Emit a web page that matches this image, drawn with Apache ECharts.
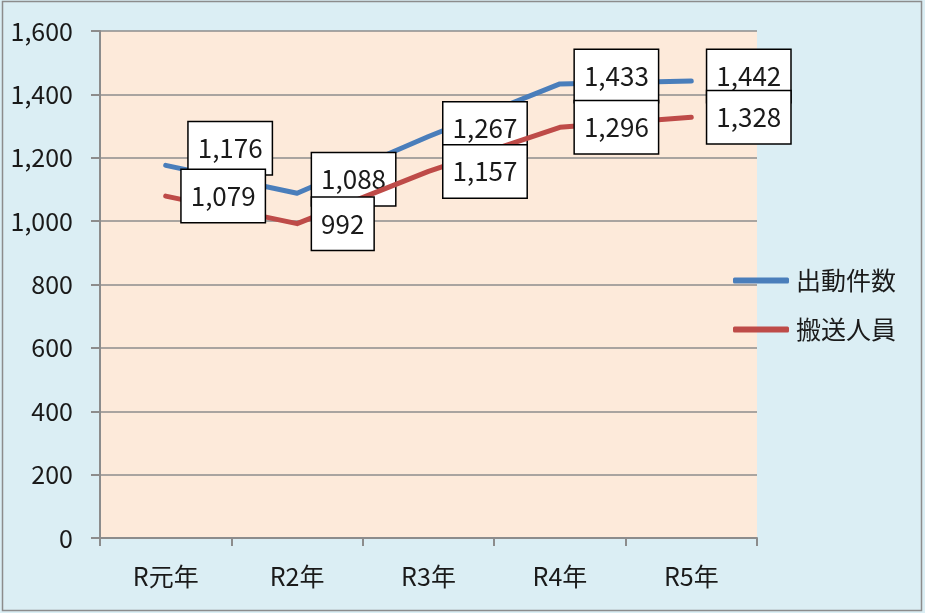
<!DOCTYPE html>
<html>
<head>
<meta charset="utf-8">
<script src="https://cdn.jsdelivr.net/npm/echarts@6/dist/echarts.min.js"></script>
<style>
html,body{margin:0;padding:0;background:#DBEEF4;}
#c{width:925px;height:613px;}
</style>
</head>
<body>
<div id="c"></div>
<script>
var categories = ['R元年', 'R2年', 'R3年', 'R4年', 'R5年'];
var seriesNames = ['出動件数', '搬送人員'];
var dispatches = [1176, 1088, 1267, 1433, 1442];
var transported = [1079, 992, 1157, 1296, 1328];
var yTicks = {min: 0, max: 1600, interval: 200};

// label nudges (style only)
var blueLabelOffsets = [[8, -17], [0, -14], [0, -8], [0, -8], [1, -5]];
var redLabelOffsets = [[1, 0], [0, 0], [0, 0], [0, 0], [1, 0]];

var FONT = '"Noto Sans CJK JP", "Noto Sans", sans-serif';
function fmt(v) { return String(v).replace(/\B(?=(\d{3})+(?!\d))/g, ','); }

function labelBase() {
  return {
    show: true,
    position: 'right',
    distance: 14,
    formatter: function (p) { return fmt(p.value); },
    fontFamily: FONT,
    fontSize: 26,
    color: '#1a1a1a',
    backgroundColor: '#ffffff',
    borderColor: '#000000',
    borderWidth: 1.5,
    padding: [11, 9, 11, 9],
    lineHeight: 30
  };
}
function buildData(vals, offs) {
  return vals.map(function (v, i) {
    return { value: v, label: { offset: offs[i] } };
  });
}

var chart = echarts.init(document.getElementById('c'), null, {renderer: 'canvas'});
chart.setOption({
  backgroundColor: '#DBEEF4',
  animation: false,
  textStyle: { fontFamily: FONT },
  graphic: [{
    type: 'rect', z: 100, silent: true,
    shape: { x: 2.5, y: 1.5, width: 919, height: 609 },
    style: { fill: 'none', stroke: '#8C8C8C', lineWidth: 1.5 }
  }],
  grid: {
    left: 100, right: 168, top: 31, bottom: 75,
    show: true, backgroundColor: '#FDEADA', borderWidth: 0
  },
  legend: {
    orient: 'vertical',
    left: 733, top: 266,
    padding: 0,
    itemWidth: 56, itemHeight: 6, itemGap: 20,
    icon: 'roundRect',
    textStyle: { fontFamily: FONT, fontSize: 25, color: '#1a1a1a', lineHeight: 29, padding: [0, 0, 0, 2] },
    data: seriesNames
  },
  xAxis: {
    type: 'category',
    data: categories,
    boundaryGap: true,
    axisLine: { show: true, lineStyle: { color: '#8C8C8C', width: 2 } },
    axisTick: { show: true, length: 8, alignWithLabel: false, lineStyle: { color: '#8C8C8C', width: 2 } },
    axisLabel: { fontFamily: FONT, fontSize: 25, color: '#1a1a1a', margin: 26 },
    splitLine: { show: false }
  },
  yAxis: {
    type: 'value',
    min: yTicks.min, max: yTicks.max, interval: yTicks.interval,
    axisLine: { show: true, lineStyle: { color: '#8C8C8C', width: 2 } },
    axisTick: { show: true, length: 9, lineStyle: { color: '#8C8C8C', width: 2 } },
    axisLabel: { fontFamily: FONT, fontSize: 25, color: '#1a1a1a', margin: 27,
      formatter: function (v) { return fmt(v); } },
    splitLine: { show: true, lineStyle: { color: '#8C8C8C', width: 1.5 } }
  },
  series: [
    {
      name: seriesNames[0], type: 'line',
      data: buildData(dispatches, blueLabelOffsets),
      showSymbol: true, symbol: 'circle', symbolSize: 2,
      color: '#4A7EBB',
      itemStyle: { color: '#4A7EBB' },
      lineStyle: { color: '#4A7EBB', width: 5, cap: 'round', join: 'round' },
      label: labelBase(),
      z: 2
    },
    {
      name: seriesNames[1], type: 'line',
      data: buildData(transported, redLabelOffsets),
      showSymbol: true, symbol: 'circle', symbolSize: 2,
      color: '#BE4B48',
      itemStyle: { color: '#BE4B48' },
      lineStyle: { color: '#BE4B48', width: 5, cap: 'round', join: 'round' },
      label: labelBase(),
      z: 3
    }
  ]
});
</script>
</body>
</html>
